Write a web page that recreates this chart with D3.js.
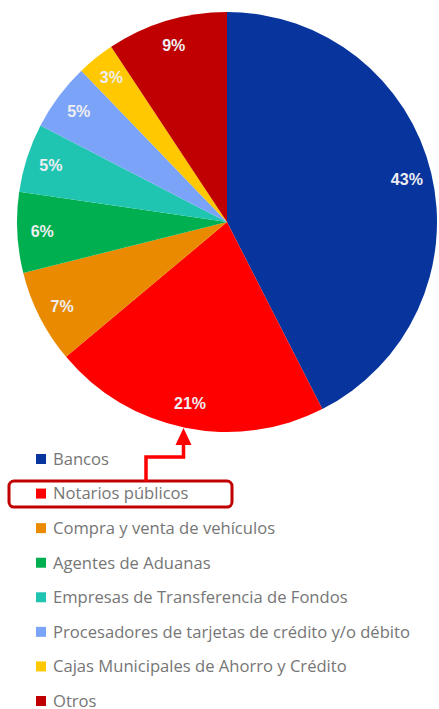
<!DOCTYPE html>
<html>
<head>
<meta charset="utf-8">
<script src="https://cdn.jsdelivr.net/npm/d3@7"></script>
<style>
  body { margin: 0; background: #fff; }
  .sliceLabel { font-family: "Liberation Sans", Arial, sans-serif; font-weight: bold; font-size: 16px; fill: #eeeef2; }
  .legendText { font-family: "Open Sans", sans-serif; font-size: 16.6px; fill: #767676; }
</style>
</head>
<body>
<div id="chart"></div>
<script>
// categories and shares (percent)
const categories = [
    "Bancos",
    "Notarios públicos",
    "Compra y venta de vehículos",
    "Agentes de Aduanas",
    "Empresas de Transferencia de Fondos",
    "Procesadores de tarjetas de crédito y/o débito",
    "Cajas Municipales de Ahorro y Crédito",
    "Otros"
];
const shares = [42.5, 21.4, 7.2, 6.2, 5.3, 5.2, 2.9, 9.3];
const colors = ["#08359d", "#ff0000", "#ea8a00", "#00b050", "#20c5b1", "#7ba4f8", "#ffc800", "#c00000"];

const width = 439, height = 709;
const cx = 227, cy = 222, radius = 210;

let svg = d3.select("#chart").append("svg")
    .attr("width", width)
    .attr("height", height);

let data = categories.map((c, i) => ({ name: c, value: shares[i], color: colors[i] }));

let pie = d3.pie()
    .sort(null)
    .value(d => d.value);

let arc = d3.arc()
    .innerRadius(0)
    .outerRadius(radius);

let labelArc = d3.arc()
    .innerRadius(185)
    .outerRadius(185);

let pieGroup = svg.append("g")
    .attr("transform", `translate(${cx}, ${cy})`);

let arcs = pie(data);

pieGroup.selectAll("path")
    .data(arcs)
    .enter()
    .append("path")
    .attr("d", arc)
    .style("fill", d => d.data.color);

pieGroup.selectAll("text")
    .data(arcs)
    .enter()
    .append("text")
    .attr("class", "sliceLabel")
    .attr("transform", d => `translate(${labelArc.centroid(d)})`)
    .attr("text-anchor", "middle")
    .attr("dy", "0.36em")
    .text(d => Math.round(d.data.value) + "%");

// legend
let legendY = d3.scalePoint()
    .domain(categories)
    .range([459, 701]);

let legend = svg.append("g");

let rows = legend.selectAll("g")
    .data(data)
    .enter()
    .append("g")
    .attr("transform", d => `translate(36, ${legendY(d.name)})`);

rows.append("rect")
    .attr("x", 0)
    .attr("y", -5)
    .attr("width", 10)
    .attr("height", 10)
    .style("fill", d => d.color);

rows.append("text")
    .attr("class", "legendText")
    .attr("x", 17)
    .attr("dy", "0.35em")
    .text(d => d.name);

// highlight box around "Notarios públicos" and arrow to its slice
let yNot = legendY(categories[1]);
svg.append("rect")
    .attr("x", 9)
    .attr("y", yNot - 12.5)
    .attr("width", 223)
    .attr("height", 26)
    .attr("rx", 5)
    .style("fill", "none")
    .style("stroke", "#c00000")
    .style("stroke-width", 3);

let arrowTopY = 444;
svg.append("path")
    .attr("d", `M146,${yNot - 12.5} V457 H183.5 V${arrowTopY}`)
    .style("fill", "none")
    .style("stroke", "#ff0000")
    .style("stroke-width", 3.5);

svg.append("path")
    .attr("d", `M175.5,${arrowTopY + 1} L183.5,428 L191.5,${arrowTopY + 1} Z`)
    .style("fill", "#ff0000");
</script>
</body>
</html>
